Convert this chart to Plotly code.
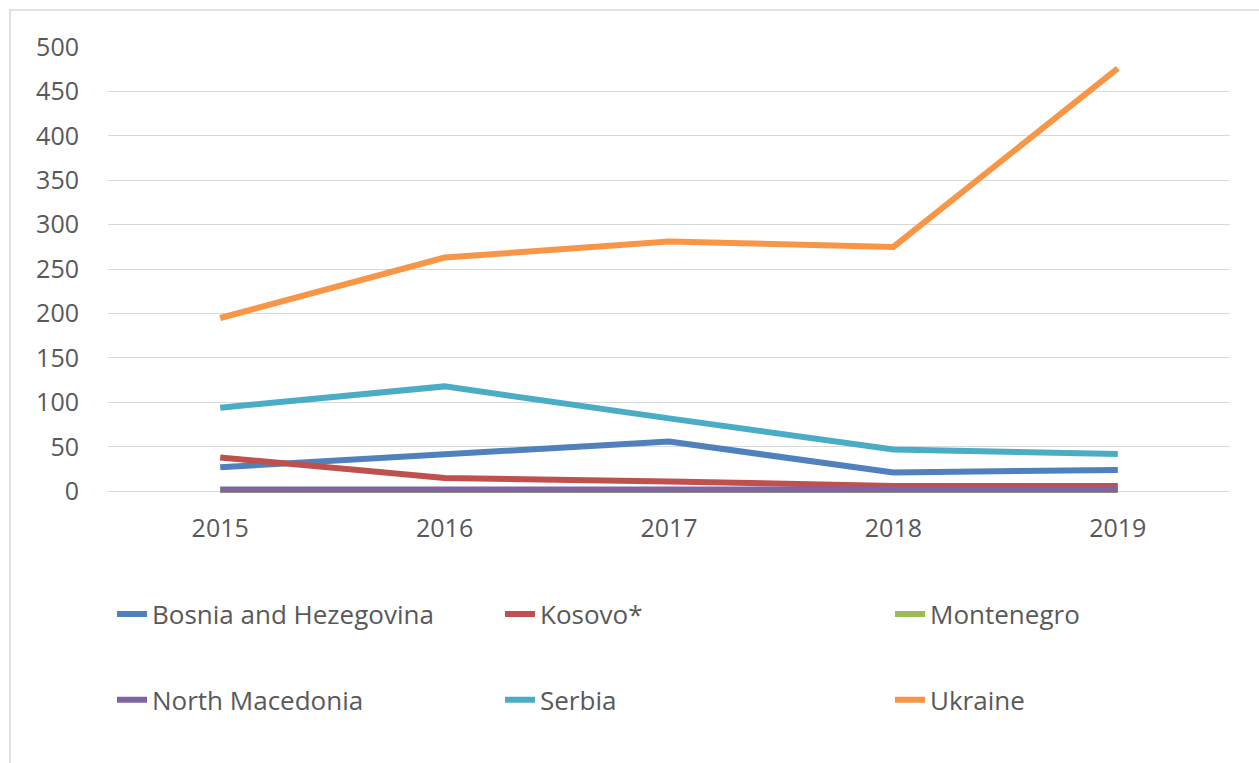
import plotly.graph_objects as go

years = ["2015", "2016", "2017", "2018", "2019"]
bosnia = [27, 42, 56, 21, 24]
kosovo = [38, 15, 11, 6, 6]
montenegro = [1, 1, 1, 1, 1]
north_macedonia = [2, 2, 3, 2, 2]
serbia = [94, 118, 82, 47, 42]
ukraine = [195, 263, 281, 275, 476]
y_ticks = [0, 50, 100, 150, 200, 250, 300, 350, 400, 450, 500]

series = [
    ("Bosnia and Hezegovina", bosnia, "#4F81BD", "legend"),
    ("Kosovo*", kosovo, "#C0504D", "legend2"),
    ("Montenegro", montenegro, "#9BBB59", "legend3"),
    ("North Macedonia", north_macedonia, "#8064A2", "legend"),
    ("Serbia", serbia, "#4BACC6", "legend2"),
    ("Ukraine", ukraine, "#F79646", "legend3"),
]

fig = go.Figure()
for name, vals, color, lg in series:
    fig.add_trace(go.Scatter(x=years, y=vals, name=name, mode="lines",
                             legendgroup=name,
                             line=dict(color=color, width=6), legend=lg))

FONT = "Open Sans"
TXT = "#595959"
W, H = 1259, 763
L, R, T, B = 108, 29, 47, 270


def col_legend(x_px):
    return dict(orientation="v", xref="container", yref="container",
                x=x_px / W, y=1 - 657 / H, xanchor="left", yanchor="middle",
                tracegroupgap=49, traceorder="grouped",
                font=dict(size=26, color=TXT), bgcolor="rgba(0,0,0,0)")


fig.update_layout(
    width=W, height=H,
    margin=dict(l=L, r=R, t=T, b=B, autoexpand=False),
    paper_bgcolor="white", plot_bgcolor="white",
    font=dict(family=FONT, size=24, color=TXT),
    xaxis=dict(type="category", range=[-0.5, 4.5], showgrid=False,
               showline=False, zeroline=False, ticks="", tickangle=0,
               tickfont=dict(size=25, color=TXT), ticklabelstandoff=18),
    yaxis=dict(range=[-2, 500], tickvals=y_ticks, showgrid=True,
               gridcolor="#D9D9D9", gridwidth=1.3, zeroline=False,
               showline=False, ticks="",
               tickfont=dict(size=25, color=TXT), ticklabelstandoff=28),
    legend=col_legend(112),
    legend2=col_legend(500),
    legend3=col_legend(890),
)

pw = W - L - R
ph = H - T - B
bottom_px = H - B
fig.add_shape(type="rect", xref="paper", yref="paper",
              x0=(10 - L) / pw, x1=(W + 5 - L) / pw,
              y0=(bottom_px - (H + 8)) / ph, y1=(bottom_px - 10) / ph,
              line=dict(color="#D9D9D9", width=1.5), fillcolor="rgba(0,0,0,0)",
              layer="below")

fig.write_html("out.html",
               config={"displayModeBar": False},
               post_script="document.body.style.margin='0px';"
                           "document.body.style.overflow='hidden';")
